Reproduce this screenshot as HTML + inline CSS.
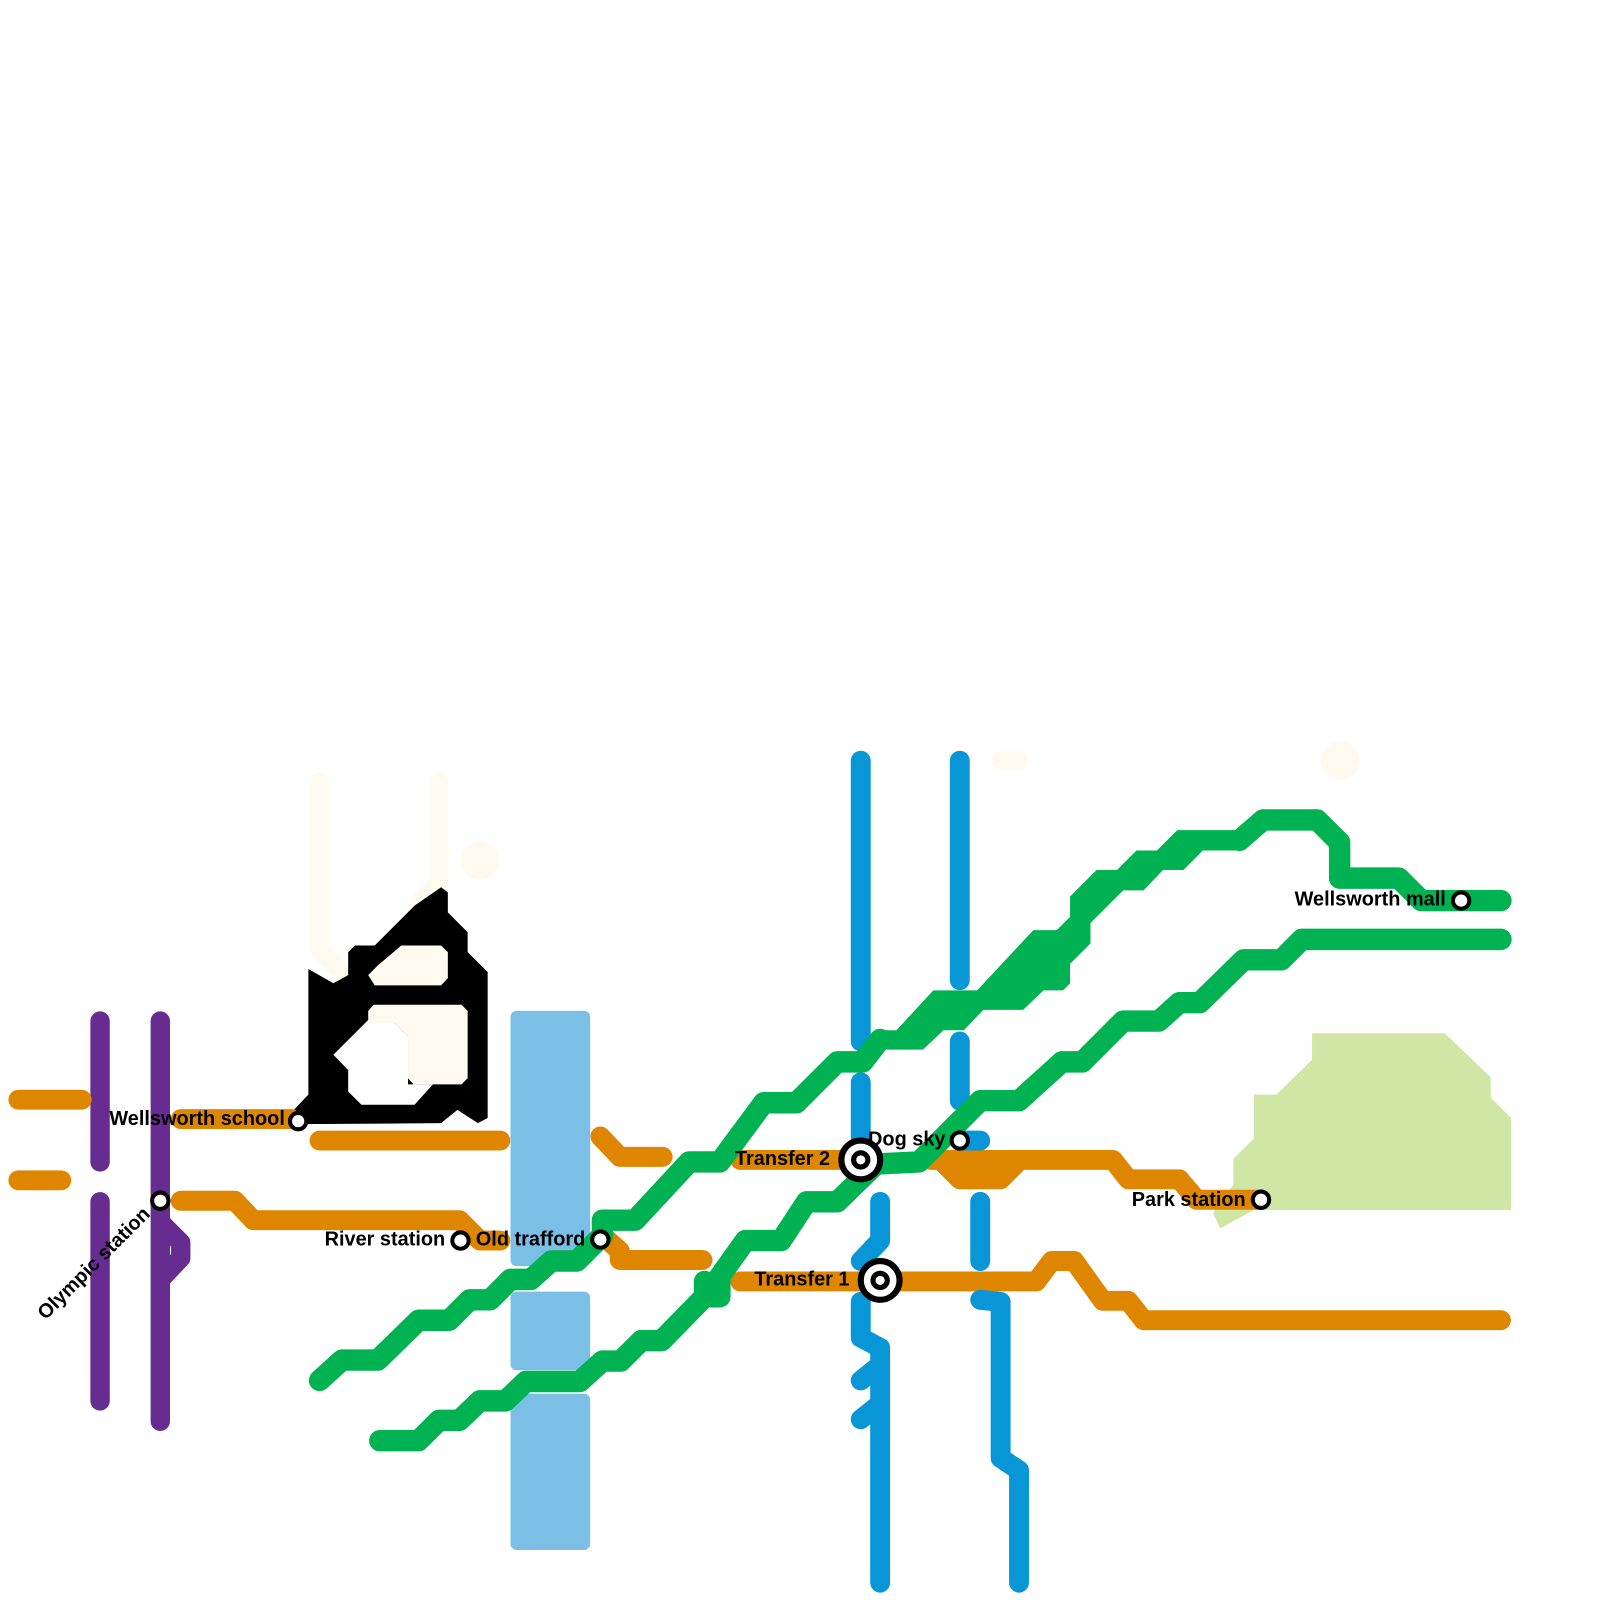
<!DOCTYPE html>
<html><head><meta charset="utf-8"><style>
html,body{margin:0;padding:0;background:#fff;}
svg{display:block;}
text{font-family:"Liberation Sans",sans-serif;font-weight:bold;font-size:19.5px;fill:#000;}
</style></head><body>
<svg width="1600" height="1600" viewBox="0 0 1567 1567" xmlns="http://www.w3.org/2000/svg">
<rect width="1567" height="1567" fill="#fff"/>
<g stroke="#fffaf0" stroke-width="18" fill="none" stroke-linecap="round" stroke-linejoin="round">
<polyline points="313,765 313,930 335,952"/>
<polyline points="430,765 430,865 412,882"/>
<line x1="980" y1="745" x2="998" y2="745"/>
</g>
<circle cx="470" cy="843" r="19" fill="#fffaf0"/>
<circle cx="1313" cy="745" r="19" fill="#fffaf0"/>
<polygon points="1285,1012 1415,1012 1460,1055 1460,1075 1480,1095 1480,1185 1228,1185 1195,1203 1188,1188 1208,1160 1208,1135 1228,1115 1228,1072 1250,1072 1285,1038" fill="#d0e6a5"/>
<g fill="#7bbee6">
<rect x="500" y="990" width="78" height="250" rx="6"/>
<rect x="500" y="1265" width="78" height="77" rx="6"/>
<rect x="500" y="1365" width="78" height="153" rx="6"/>
</g>
<g stroke="#662c90" stroke-width="19" fill="none" stroke-linecap="round" stroke-linejoin="round">
<line x1="98" y1="1000" x2="98" y2="1138"/>
<line x1="98" y1="1177" x2="98" y2="1372"/>
<polyline points="157,1000 157,1392"/>
<polyline points="160,1200 177,1217 177,1232 160,1250"/>
</g>
<polygon points="302,949 326.5,963 341,955 341,932.5 347.6,926 367,926 406,887 432,869 438.6,874 438.6,893.5 458,913 458,932.5 477.6,952 477.6,1095 468,1100 448,1087 432,1100 292,1101 283,1092 302,1072" fill="#000"/>
<polygon points="370,945.5 393,926 432,926 438.6,932.5 438.6,958 432,965 367,965 360.6,955" fill="#fffaf0"/>
<polygon points="326.5,1033 360.6,999 386.6,1002 399.6,1015 399.6,1062 424,1062 406,1082 354,1082 341,1069 341,1048" fill="#fff"/>
<polygon points="366,984 452,984 458,990 458,1056 452,1062 405,1062 399.6,1056 399.6,1015 386.6,1002 360.6,1002 360.6,990" fill="#fffaf0"/>
<g stroke="#df8600" stroke-width="19.5" fill="none" stroke-linecap="round" stroke-linejoin="round">
<line x1="18" y1="1077" x2="80" y2="1077"/>
<line x1="18" y1="1156" x2="60" y2="1156"/>
<line x1="177" y1="1096" x2="285" y2="1096"/>
<line x1="313" y1="1117" x2="490" y2="1117"/>
<polyline points="177,1176 230,1176 248,1195 450,1195 470,1215 490,1215"/>
<polyline points="588,1113 607,1133 649,1133"/>
<polyline points="590,1210 607,1225 607,1234 688,1234"/>
<line x1="725" y1="1136" x2="830" y2="1136"/>
<polyline points="725,1255 1015,1255 1030,1235 1052,1235 1080,1274 1105,1274 1120,1293 1470,1293"/>
<polyline points="912,1136 1090,1136 1105,1155 1155,1155 1172,1175 1235,1175"/>
<polyline points="925,1140 940,1155 980,1155 995,1140"/>
</g>
<g stroke="#0896d7" stroke-width="19.5" fill="none" stroke-linecap="round" stroke-linejoin="round">
<line x1="843" y1="745" x2="843" y2="1020"/>
<line x1="843" y1="1060" x2="843" y2="1115"/>
<polyline points="862,1177 862,1215 843,1235"/>
<polyline points="843,1275 843,1310 862,1320 862,1550"/>
<polyline points="843,1352 858,1340"/>
<polyline points="843,1390 858,1378"/>
<line x1="940" y1="745" x2="940" y2="960"/>
<line x1="940" y1="1020" x2="940" y2="1078"/>
<line x1="940" y1="1117" x2="960" y2="1117"/>
<line x1="960" y1="1177" x2="960" y2="1235"/>
<polyline points="960,1273 980,1275 980,1428 998,1440 998,1550"/>
</g>
<g stroke="#00b251" stroke-width="21" fill="none" stroke-linecap="round" stroke-linejoin="round">
<polyline points="313,1352 335,1332 370,1332 410,1293 440,1293 460,1273 480,1273 500,1253 520,1253 540,1235 565,1235 590,1210 590,1195 622,1195 675,1138 705,1138 748,1080 780,1080 800,1060 820,1040 845,1040 862,1018"/>
<polyline points="1214,823 1237,803 1290,803 1312,825 1312,860 1370,860 1392,882 1470,882"/>
<polyline points="372,1411 410,1411 430,1391 450,1391 470,1372 495,1372 515,1353 568,1353 590,1333 608,1333 628,1313 648,1313 690,1270 705,1270 705,1250 730,1215 765,1215 790,1177 820,1177 858,1140 900,1138 960,1078 998,1078 1040,1040 1060,1040 1100,1000 1135,1000 1155,982 1175,982 1218,940 1255,940 1275,920 1470,920"/>
<polyline points="690,1255 690,1270"/>
</g>
<polygon fill="#00b251" points="862,1009 878,1009 914,970 957,970 1012,911 1035,911 1048,898 1048,878 1074,852 1094,852 1113,833 1133,833 1153,813 1214,813 1214,833 1178,833 1159,852 1139,852 1120,872 1100,872 1068,904 1068,924 1048,944 1048,963 1041,970 1022,970 1002,989 963,989 944,1009 924,1009 904,1028 862,1028"/>
<g fill="#fff" stroke="#000" stroke-width="4">
<circle cx="292" cy="1098" r="8"/>
<circle cx="157" cy="1176" r="8"/>
<circle cx="451" cy="1215" r="8"/>
<circle cx="588" cy="1214" r="8"/>
<circle cx="940" cy="1117" r="8"/>
<circle cx="1235" cy="1175" r="8"/>
<circle cx="1431" cy="882" r="8"/>
<circle cx="843" cy="1136" r="19" stroke-width="6"/>
<circle cx="843" cy="1136" r="7" stroke-width="5"/>
<circle cx="862" cy="1254" r="19" stroke-width="6"/>
<circle cx="862" cy="1254" r="7" stroke-width="5"/>
</g>
<text x="279" y="1102" text-anchor="end">Wellsworth school</text>
<text x="436" y="1220" text-anchor="end">River station</text>
<text x="466" y="1220">Old trafford</text>
<text x="813" y="1141" text-anchor="end">Transfer 2</text>
<text x="832" y="1259" text-anchor="end">Transfer 1</text>
<text x="926" y="1122" text-anchor="end">Dog sky</text>
<text x="1220" y="1181" text-anchor="end">Park station</text>
<text x="1416" y="887" text-anchor="end">Wellsworth mall</text>
<text transform="translate(148,1190) rotate(-45)" text-anchor="end">Olympic station</text>
</svg>
</body></html>
